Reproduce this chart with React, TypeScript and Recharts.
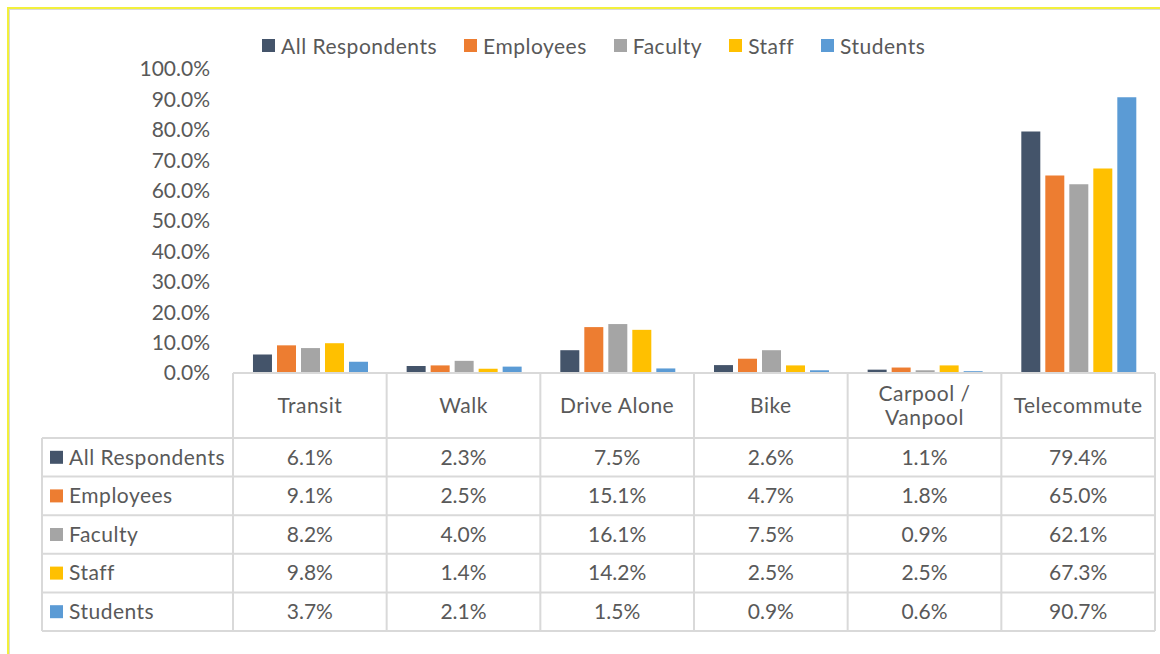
import React from 'react';
import { BarChart, Bar, XAxis, YAxis } from 'recharts';

const categories = ['Transit', 'Walk', 'Drive Alone', 'Bike', 'Carpool / Vanpool', 'Telecommute'];
const seriesNames = ['All Respondents', 'Employees', 'Faculty', 'Staff', 'Students'];
const seriesKeys = ['all', 'employees', 'faculty', 'staff', 'students'];
const seriesColors = ['#44546A', '#ED7D31', '#A5A5A5', '#FFC000', '#5B9BD5'];

const allRespondents = [6.1, 2.3, 7.5, 2.6, 1.1, 79.4];
const employees = [9.1, 2.5, 15.1, 4.7, 1.8, 65.0];
const faculty = [8.2, 4.0, 16.1, 7.5, 0.9, 62.1];
const staff = [9.8, 1.4, 14.2, 2.5, 2.5, 67.3];
const students = [3.7, 2.1, 1.5, 0.9, 0.6, 90.7];
const seriesValues = [allRespondents, employees, faculty, staff, students];

const yTicks = [0, 10, 20, 30, 40, 50, 60, 70, 80, 90, 100];

const data = categories.map((name, i) => {
  const row: Record<string, any> = { name };
  seriesKeys.forEach((k, s) => (row[k] = seriesValues[s][i]));
  return row;
});

// layout
const W = 1160;
const H = 654;
const PLOT_LEFT = 233;
const PLOT_RIGHT = 1155;
const PLOT_TOP = 69;
const PLOT_BOTTOM = 373;
const Y_AXIS_W = 60;
const HEADER_BOTTOM = 438;
const ROW_H = 38.6;
const TABLE_LEFT = 42;
const GRID = '#D9D9D9';
const TEXT = '#595959';
const FONT = 'Lato, "Liberation Sans", sans-serif';
const FS = 21;
const LS = 0.5; // letter spacing for word labels

const fmt = (v: number) => v.toFixed(1) + '%';
const tableBottom = HEADER_BOTTOM + ROW_H * seriesNames.length;

function TableTick(props: any) {
  const { x, index, payload } = props;
  const bw = (PLOT_RIGHT - PLOT_LEFT) / categories.length;
  const left = x - bw / 2;
  const right = x + bw / 2;
  const label: string = payload.value;
  const lines = label.includes(' / ') ? [label.split(' / ')[0] + ' /', label.split(' / ')[1]] : [label];
  const headerMid = (PLOT_BOTTOM + HEADER_BOTTOM) / 2;
  return (
    <g>
      <line x1={left} x2={left} y1={PLOT_BOTTOM} y2={tableBottom} stroke={GRID} strokeWidth={2} />
      {index === categories.length - 1 && (
        <line x1={right} x2={right} y1={PLOT_BOTTOM} y2={tableBottom} stroke={GRID} strokeWidth={2} />
      )}
      {lines.map((t, li) => (
        <text
          key={li}
          x={x}
          y={headerMid + (li - (lines.length - 1) / 2) * 24}
          dy="0.35em"
          textAnchor="middle"
          fill={TEXT}
          fontSize={FS}
          fontFamily={FONT}
          letterSpacing={LS}
        >
          {t}
        </text>
      ))}
      {seriesValues.map((vals, s) => (
        <text
          key={s}
          x={x}
          y={HEADER_BOTTOM + ROW_H * (s + 0.5)}
          dy="0.35em"
          textAnchor="middle"
          fill={TEXT}
          fontSize={FS}
          fontFamily={FONT}
        >
          {fmt(vals[index])}
        </text>
      ))}
      {index === 0 && (
        <g>
          <line x1={TABLE_LEFT} x2={TABLE_LEFT} y1={HEADER_BOTTOM} y2={tableBottom} stroke={GRID} strokeWidth={2} />
          {[0, 1, 2, 3, 4, 5].map((r) => (
            <line
              key={r}
              x1={TABLE_LEFT}
              x2={PLOT_RIGHT}
              y1={HEADER_BOTTOM + ROW_H * r}
              y2={HEADER_BOTTOM + ROW_H * r}
              stroke={GRID}
              strokeWidth={2}
            />
          ))}
          {seriesNames.map((n, s) => {
            const cy = HEADER_BOTTOM + ROW_H * (s + 0.5);
            return (
              <g key={n}>
                <rect x={50} y={cy - 6.5} width={13} height={13} fill={seriesColors[s]} />
                <text x={69} y={cy} dy="0.35em" fill={TEXT} fontSize={FS} fontFamily={FONT} letterSpacing={LS}>
                  {n}
                </text>
              </g>
            );
          })}
        </g>
      )}
    </g>
  );
}

export default function App() {
  return (
    <div style={{ position: 'absolute', left: 0, top: 0, width: W, height: H, background: '#fff', fontFamily: FONT }}>
      {/* frame */}
      <div style={{ position: 'absolute', left: 7, top: 7, right: 0, bottom: 0, borderTop: '2px solid #F2F03C', borderLeft: '2px solid #F2F03C' }} />
      <div style={{ position: 'absolute', left: 9, top: 9, right: 0, bottom: 0, borderTop: '1px solid #D9D9D9', borderLeft: '1px solid #D9D9D9' }} />

      {/* legend */}
      <div style={{ position: 'absolute', left: 262, top: 33, display: 'flex', alignItems: 'center', color: TEXT, fontSize: FS, letterSpacing: LS }}>
        {seriesNames.map((n, s) => (
          <div key={n} style={{ display: 'flex', alignItems: 'center', marginRight: 27 }}>
            <span style={{ width: 13, height: 13, background: seriesColors[s], marginRight: 6, display: 'inline-block' }} />
            <span>{n}</span>
          </div>
        ))}
      </div>

      <div style={{ position: 'absolute', left: 0, top: 0 }}>
        <BarChart
          width={W}
          height={H}
          data={data}
          margin={{ top: PLOT_TOP, right: W - PLOT_RIGHT, bottom: 0, left: PLOT_LEFT - Y_AXIS_W }}
          barCategoryGap="13%"
          barGap={5}
        >
          <XAxis
            dataKey="name"
            height={H - PLOT_BOTTOM}
            interval={0}
            tickLine={false}
            axisLine={{ stroke: GRID, strokeWidth: 2 }}
            tick={<TableTick />}
          />
          <YAxis
            width={Y_AXIS_W}
            domain={[0, 100]}
            ticks={yTicks}
            tickFormatter={fmt}
            axisLine={false}
            tickLine={false}
            tickMargin={17}
            tick={{ fill: TEXT, fontSize: FS, fontFamily: FONT }}
          />
          {seriesKeys.map((k, s) => (
            <Bar key={k} dataKey={k} name={seriesNames[s]} fill={seriesColors[s]} isAnimationActive={false} />
          ))}
        </BarChart>
      </div>
    </div>
  );
}
